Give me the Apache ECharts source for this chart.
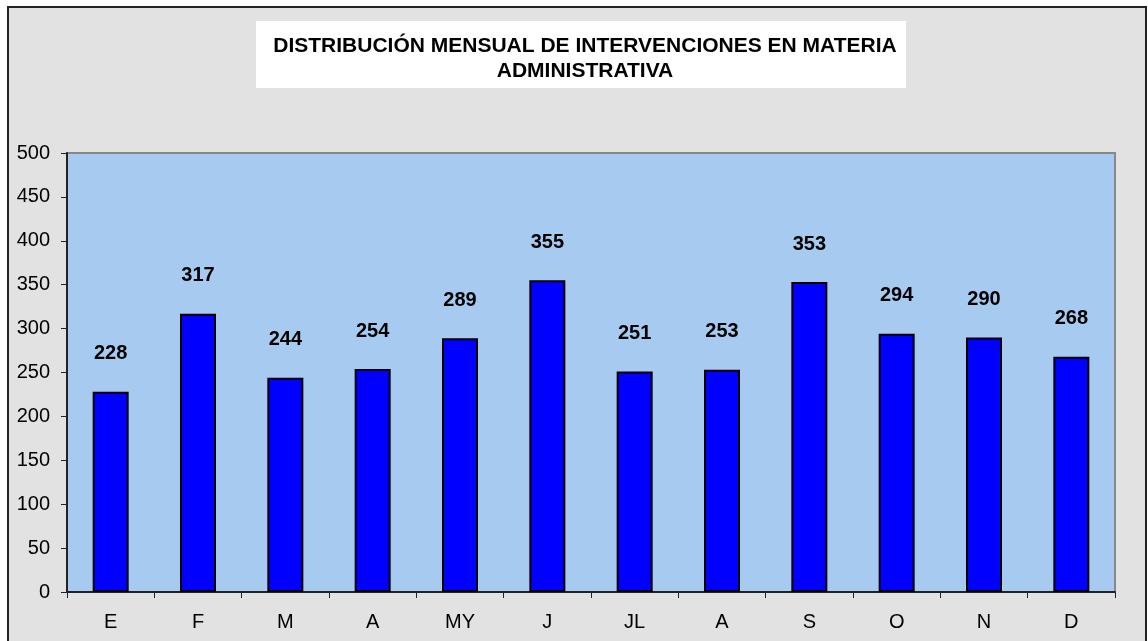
<!DOCTYPE html>
<html>
<head>
<meta charset="utf-8">
<script src="https://cdn.jsdelivr.net/npm/echarts@6/dist/echarts.min.js"></script>
<style>
  html, body { margin: 0; padding: 0; background: #fff; }
  #chart { width: 1148px; height: 641px; }
</style>
</head>
<body>
<div id="chart"></div>
<script>
// datos
var meses = ['E', 'F', 'M', 'A', 'MY', 'J', 'JL', 'A', 'S', 'O', 'N', 'D']
var intervenciones = [228, 317, 244, 254, 289, 355, 251, 253, 353, 294, 290, 268]
var tituloLineas = ['DISTRIBUCIÓN MENSUAL DE INTERVENCIONES EN MATERIA', 'ADMINISTRATIVA']

var chart = echarts.init(document.getElementById('chart'))
var fuente = '"Liberation Sans", Arial, sans-serif'

chart.setOption({
  animation: false,
  backgroundColor: '#fff',
  graphic: [
    {
      type: 'rect',
      z: -10,
      shape: { x: 8, y: 7, width: 1138, height: 640 },
      style: { fill: '#e2e2e2', stroke: '#222', lineWidth: 2 }
    },
    {
      type: 'rect',
      z: -9,
      shape: { x: 256, y: 21, width: 650, height: 67 },
      style: { fill: '#fff' }
    }
  ],
  title: {
    text: tituloLineas.join('\n'),
    left: 580,
    top: 29,
    textAlign: 'center',
    textStyle: {
      fontFamily: fuente,
      fontSize: 21,
      fontWeight: 'bold',
      color: '#000',
      lineHeight: 25
    }
  },
  grid: {
    left: 67,
    top: 153,
    right: 33,
    bottom: 49,
    show: true,
    backgroundColor: '#a6caf0',
    borderColor: '#888',
    borderWidth: 2
  },
  xAxis: {
    type: 'category',
    data: meses,
    axisLine: { lineStyle: { color: '#222', width: 2 } },
    axisTick: { show: true, length: 6, lineStyle: { color: '#222' } },
    axisLabel: { color: '#000', fontFamily: fuente, fontSize: 20, margin: 20 }
  },
  yAxis: {
    type: 'value',
    min: 0,
    max: 500,
    interval: 50,
    splitLine: { show: false },
    axisLine: { show: true, lineStyle: { color: '#222', width: 2 } },
    axisTick: { show: true, length: 6, lineStyle: { color: '#222' } },
    axisLabel: { color: '#000', fontFamily: fuente, fontSize: 20, margin: 17 }
  },
  series: [
    {
      type: 'bar',
      data: intervenciones,
      barWidth: 36,
      itemStyle: { color: '#0000ff', borderColor: '#000', borderWidth: 2 },
      label: {
        show: true,
        position: 'top',
        distance: 28,
        color: '#000',
        fontFamily: fuente,
        fontSize: 20,
        fontWeight: 'bold'
      }
    }
  ]
})
</script>
</body>
</html>
